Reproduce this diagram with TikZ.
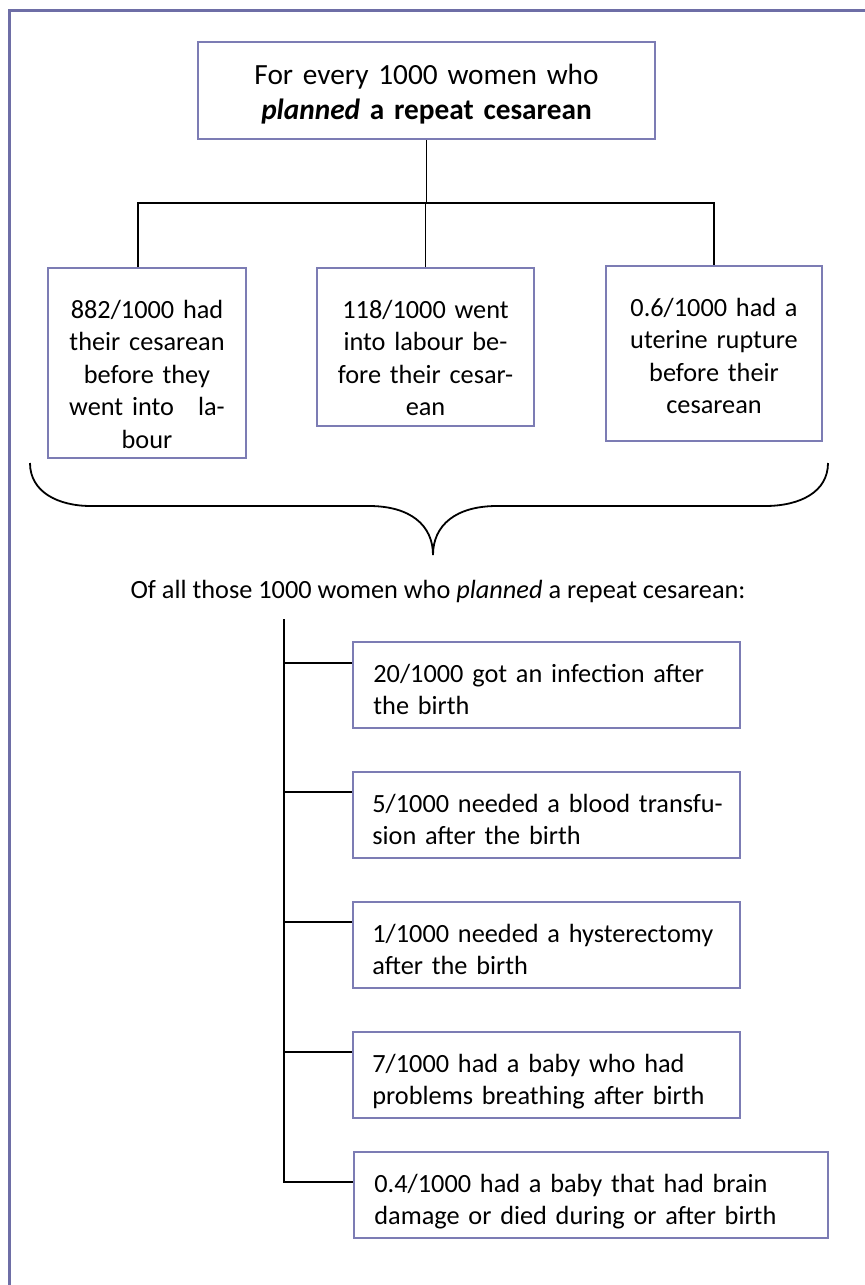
\documentclass[tikz,border=0pt]{standalone}
\usepackage{fontspec}
\setmainfont{Carlito}
\usetikzlibrary{calc}
\definecolor{framec}{RGB}{110,110,166}
\definecolor{boxc}{RGB}{124,124,180}
\begin{document}
\begin{tikzpicture}[x=0.5pt,y=-0.5pt,
  box/.style={draw=boxc, line width=1pt, inner sep=0pt},
  conn/.style={draw=black, line width=0.9pt},
  txt/.style={inner sep=0pt, font=\fontsize{13.15pt}{16.25pt}\selectfont},
  big/.style={inner sep=0pt, font=\fontsize{14.65pt}{17.5pt}\selectfont}]
\useasboundingbox (0,0) rectangle (865,1285);
\fill[white] (0,0) rectangle (865,1285);
\draw[framec, line width=1.5pt] (9.5,1300) -- (9.5,10.5) -- (880,10.5);

% top box
\node[box, minimum width=228.5pt, minimum height=48.5pt] (t) at (426.5,90.5) {};
\node[big, text width=228pt, align=center, anchor=base] (tt) at (426.5,84)
  {For every 1000 women who\\\textbf{\textit{planned} a repeat cesarean}};

% first row
\node[box, minimum width=99pt, minimum height=95pt] (l) at (147,363) {};
\node[txt, text width=95pt, align=center, anchor=base] (lt) at (147,318)
  {882/1000 had\\their cesarean\\before they\\went into\hspace{12pt}la-\\bour};
\node[box, minimum width=108.5pt, minimum height=79pt] (m) at (425.5,347) {};
\node[txt, text width=105pt, align=center, anchor=base] (mt) at (425.5,318)
  {118/1000 went\\into labour be-\\fore their cesar-\\ean};
\node[box, minimum width=108pt, minimum height=87.5pt] (r) at (714,353.5) {};
\node[txt, text width=105pt, align=center, anchor=base] (rt) at (714,316)
  {0.6/1000 had a\\uterine rupture\\before their\\cesarean};

% connectors top
\coordinate (hl) at (138,203);
\coordinate (hr) at (714,203);
\draw[conn] ($(l.north)+(-9,0)$) -- (hl) -- (hr) -- (r.north);
\draw[conn] (t.south) -- (t.south |- hl);
\draw[conn] (m.north) -- (m.north |- hl);

% brace
\draw[conn] (30,463) .. controls (30,492) and (58,506) .. (91,506) -- (369,506)
  .. controls (410,506) and (433,525) .. (433,555)
  .. controls (433,525) and (456,506) .. (497,506) -- (765,506)
  .. controls (800,506) and (828,492) .. (828,463);

\node[txt, anchor=base] (of) at (438,598)
  {Of all those 1000 women who \textit{planned} a repeat cesarean:};

% outcome boxes
\node[box, minimum width=193.5pt, minimum height=43pt, anchor=north west] (b1) at (352,641) {};
\node[txt, text width=185pt, align=left, anchor=base west] (b1t) at (373,682)
  {20/1000 got an infection after\\the birth};
\node[box, minimum width=193.5pt, minimum height=43pt, anchor=north west] (b2) at (352,771) {};
\node[txt, text width=185pt, align=left, anchor=base west] (b2t) at (372,812)
  {5/1000 needed a blood transfu-\\sion after the birth};
\node[box, minimum width=193.5pt, minimum height=43pt, anchor=north west] (b3) at (352,901) {};
\node[txt, text width=185pt, align=left, anchor=base west] (b3t) at (372,942)
  {1/1000 needed a hysterectomy\\after the birth};
\node[box, minimum width=193.5pt, minimum height=43pt, anchor=north west] (b4) at (352,1031) {};
\node[txt, text width=185pt, align=left, anchor=base west] (b4t) at (372,1072)
  {7/1000 had a baby who had\\problems breathing after birth};
\node[box, minimum width=237pt, minimum height=43pt, anchor=north west] (b5) at (353,1151) {};
\node[txt, text width=230pt, align=left, anchor=base west] (b5t) at (374,1192)
  {0.4/1000 had a baby that had brain\\damage or died during or after birth};

% trunk
\coordinate (trunktop) at (284,619);
\coordinate (j1) at (284,663);
\coordinate (j2) at (284,792);
\coordinate (j3) at (284,922);
\coordinate (j4) at (284,1052);
\coordinate (j5) at (284,1182);
\draw[conn] (trunktop) -- (j5) -- (j5 -| b5.west);
\draw[conn] (j1) -- (j1 -| b1.west);
\draw[conn] (j2) -- (j2 -| b2.west);
\draw[conn] (j3) -- (j3 -| b3.west);
\draw[conn] (j4) -- (j4 -| b4.west);
\end{tikzpicture}
\end{document}
